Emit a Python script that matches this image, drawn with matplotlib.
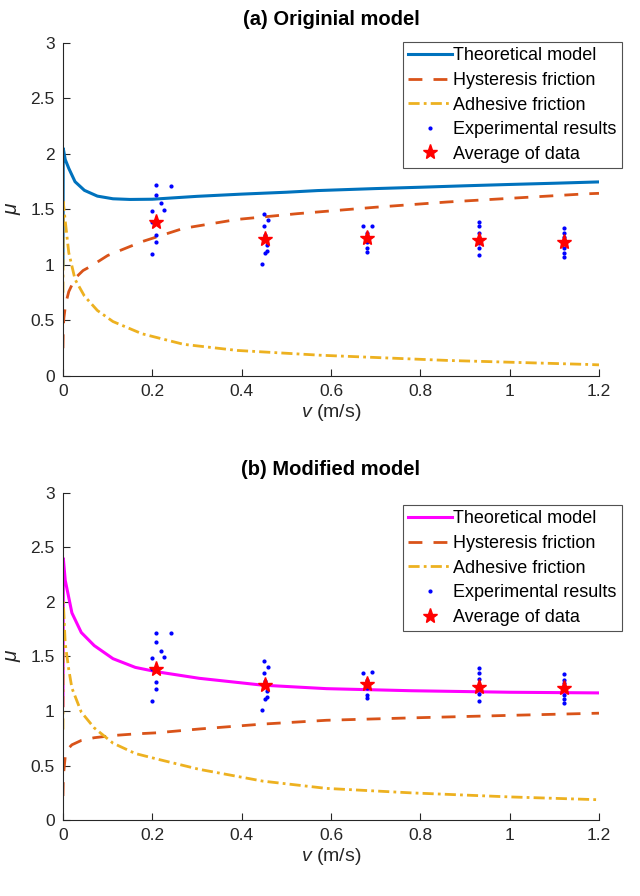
import matplotlib
matplotlib.use("Agg")
import matplotlib.pyplot as plt

plt.rcParams['font.family'] = ['Liberation Sans', 'DejaVu Sans']
plt.rcParams['mathtext.fontset'] = 'custom'
plt.rcParams['mathtext.it'] = 'Liberation Sans:italic'
plt.rcParams['mathtext.rm'] = 'Liberation Sans'

# ---------------- data ----------------
xticks = [0, 0.2, 0.4, 0.6, 0.8, 1.0, 1.2]
xticklabels = ['0', '0.2', '0.4', '0.6', '0.8', '1', '1.2']
yticks = [0, 0.5, 1, 1.5, 2, 2.5, 3]
yticklabels = ['0', '0.5', '1', '1.5', '2', '2.5', '3']

# (a) original model
va_theo = [0, 0.0006, 0.005, 0.013, 0.027, 0.048, 0.077, 0.112, 0.15, 0.2, 0.3,
           0.4, 0.5, 0.57, 0.7, 0.8, 0.9, 1.0, 1.1, 1.2]
mua_theo = [1.0, 2.05, 1.95, 1.87, 1.75, 1.672, 1.62, 1.596, 1.59, 1.592, 1.618,
            1.638, 1.655, 1.67, 1.688, 1.70, 1.713, 1.725, 1.736, 1.748]
va_hys = [0, 0.0006, 0.002, 0.006, 0.013, 0.027, 0.045, 0.063, 0.1, 0.177, 0.27,
          0.39, 0.525, 0.7, 0.86, 1.0, 1.173, 1.2]
mua_hys = [0.25, 0.42, 0.52, 0.65, 0.76, 0.88, 0.95, 0.99, 1.085, 1.21, 1.33,
           1.41, 1.462, 1.52, 1.567, 1.60, 1.641, 1.645]
va_adh = [0, 0.0006, 0.005, 0.013, 0.027, 0.048, 0.077, 0.112, 0.177, 0.27,
          0.39, 0.575, 0.86, 1.173, 1.2]
mua_adh = [0.75, 1.57, 1.40, 1.11, 0.87, 0.72, 0.59, 0.49, 0.38, 0.285,
           0.23, 0.187, 0.14, 0.104, 0.10]

# (b) modified model
vb = [0, 0.0008, 0.005, 0.013, 0.02, 0.041, 0.07, 0.112, 0.162, 0.21, 0.305,
      0.447, 0.59, 0.78, 1.0, 1.2]
mub_theo = [1.05, 2.40, 2.20, 2.04, 1.90, 1.72, 1.60, 1.48, 1.40, 1.36, 1.30,
            1.237, 1.205, 1.186, 1.172, 1.166]
mub_hys = [0.22, 0.40, 0.58, 0.66, 0.69, 0.73, 0.755, 0.775, 0.79, 0.80, 0.835,
           0.88, 0.915, 0.937, 0.96, 0.98]
mub_adh = [0.83, 2.0, 1.62, 1.38, 1.21, 0.99, 0.845, 0.705, 0.61, 0.56, 0.465,
           0.357, 0.29, 0.249, 0.212, 0.186]

# experimental results
exp_v = [0.209, 0.241, 0.209, 0.219, 0.227, 0.200, 0.200, 0.209, 0.209, 0.200,
         0.449, 0.459, 0.449, 0.452, 0.456, 0.456, 0.452, 0.445,
         0.671, 0.691, 0.680, 0.680, 0.680, 0.680,
         0.932, 0.932, 0.932, 0.932, 0.932, 0.932,
         1.122, 1.122, 1.122, 1.122, 1.122, 1.122]
exp_mu = [1.716, 1.713, 1.632, 1.555, 1.495, 1.483, 1.388, 1.268, 1.203, 1.095,
          1.457, 1.403, 1.349, 1.274, 1.179, 1.125, 1.110, 1.006,
          1.349, 1.355, 1.289, 1.209, 1.149, 1.119,
          1.391, 1.349, 1.290, 1.200, 1.155, 1.089,
          1.337, 1.289, 1.253, 1.149, 1.110, 1.074]
avg_v = [0.209, 0.452, 0.680, 0.932, 1.122]
avg_mu = [1.388, 1.238, 1.247, 1.224, 1.209]

labels = ['Theoretical model', 'Hysteresis friction', 'Adhesive friction',
          'Experimental results', 'Average of data']

# ---------------- plotting ----------------
AX_COL = '#262626'
fig = plt.figure(figsize=(6.4, 8.96), dpi=100)

def panel(rect, title, v_t, mu_t, col_t, v_h, mu_h, v_a, mu_a, leg_top):
    ax = fig.add_axes(rect)
    ax.plot(v_t, mu_t, '-', color=col_t, lw=2.2, label=labels[0])
    ax.plot(v_h, mu_h, color='#D95319', lw=2.0, dashes=(5, 4), label=labels[1])
    ax.plot(v_a, mu_a, color='#EDB120', lw=2.0, dashes=(4, 1.5, 1, 1.5), label=labels[2])
    ax.plot(exp_v, exp_mu, '.', color='#0000FF', ms=4, ls='none', label=labels[3])
    ax.plot(avg_v, avg_mu, '*', color='#FF0000', ms=11, ls='none', label=labels[4])
    ax.set_xlim(0, 1.2)
    ax.set_ylim(0, 3)
    ax.set_xticks(xticks)
    ax.set_xticklabels(xticklabels)
    ax.set_yticks(yticks)
    ax.set_yticklabels(yticklabels)
    for s in ['top', 'right']:
        ax.spines[s].set_visible(False)
    for s in ['left', 'bottom']:
        ax.spines[s].set_color(AX_COL)
        ax.spines[s].set_linewidth(0.8)
    ax.tick_params(direction='in', length=5, width=0.8, colors=AX_COL,
                   labelsize=12.5, pad=6)
    ax.set_xlabel(r'$\mathit{v}$ (m/s)', fontsize=14, color=AX_COL, labelpad=2)
    ax.set_ylabel('μ', fontsize=15, fontstyle='italic', color=AX_COL, labelpad=6)
    ax.set_title(title, fontsize=14.5, fontweight='bold', color='black', pad=13)
    leg = ax.legend(loc='upper right', bbox_to_anchor=(1.043, leg_top),
                    fontsize=13, frameon=True, fancybox=False,
                    edgecolor=AX_COL, borderpad=0.3, labelspacing=0.42,
                    handlelength=2.4, handletextpad=0.08, borderaxespad=0.0)
    leg.get_frame().set_linewidth(0.8)
    for t in leg.get_texts():
        t.set_color('black')
    return ax

panel([0.0984, 0.5804, 0.8375, 0.3717], '(a) Originial model',
      va_theo, mua_theo, '#0072BD', va_hys, mua_hys, va_adh, mua_adh, 1.003)
panel([0.0984, 0.0848, 0.8375, 0.3650], '(b) Modified model',
      vb, mub_theo, '#FF00FF', vb, mub_hys, vb, mub_adh, 0.963)

fig.savefig('out.png', dpi=100)
